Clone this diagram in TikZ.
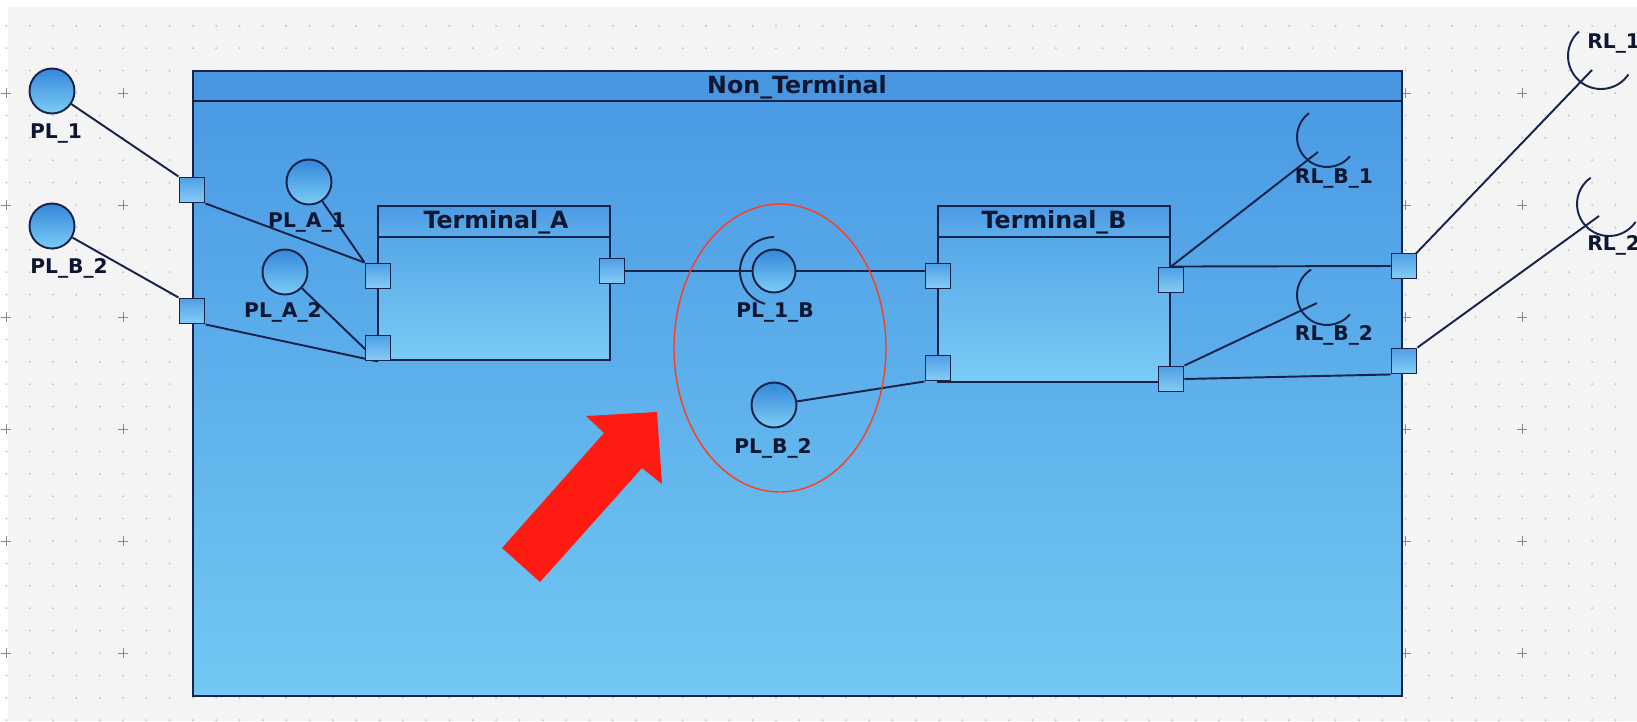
\documentclass[tikz,border=0pt]{standalone}
\usepackage{fontspec}
\setmainfont{DejaVu Sans}
\usetikzlibrary{calc}
\definecolor{navy}{HTML}{17234A}
\definecolor{lblc}{HTML}{0E1632}
\definecolor{bgc}{HTML}{F4F4F4}
\definecolor{dotc}{HTML}{C6C6C6}
\definecolor{plusc}{HTML}{8A8A8A}
\definecolor{ntHead}{HTML}{4896E0}
\definecolor{ntTop}{HTML}{4A9AE4}
\definecolor{ntBot}{HTML}{72C8F3}
\definecolor{tHeadTop}{HTML}{4C99E2}
\definecolor{tHeadBot}{HTML}{5EAEEA}
\definecolor{tTop}{HTML}{56A8E8}
\definecolor{tBot}{HTML}{7ACBF4}
\definecolor{ifTop}{HTML}{3486DA}
\definecolor{ifBot}{HTML}{7CCDF5}
\definecolor{portTop}{HTML}{4F9FE6}
\definecolor{portBot}{HTML}{86CDF4}
\definecolor{arrowred}{HTML}{FF1A12}
\definecolor{ellred}{HTML}{FF3C1E}
\pgfdeclarelayer{back}
\pgfdeclarelayer{lines}
\pgfsetlayers{back,lines,main}
\tikzset{
  boxline/.style={draw=navy, line width=1.2pt},
  conn/.style={draw=navy, line width=1.1pt},
  sock/.style={draw=navy, line width=1.1pt},
  port/.style={rectangle, draw=navy, line width=1.1pt, minimum size=0.5cm, inner sep=0pt,
    top color=portTop, bottom color=portBot},
  iface/.style={circle, draw=navy, line width=1.1pt, minimum size=0.9cm, inner sep=0pt,
    top color=ifTop, bottom color=ifBot},
  lbl/.style={text=lblc, font=\bfseries\fontsize{11.5}{13}\selectfont, inner sep=0pt, anchor=base},
  ttl/.style={text=lblc, font=\bfseries\fontsize{13.5}{15}\selectfont, inner sep=0pt, anchor=base},
}
\begin{document}
\begin{tikzpicture}[x=0.02cm,y=-0.02cm]
\useasboundingbox (0,0) rectangle (1637,721);

% ---------- nodes ----------
% outer provided interfaces
\node[iface] (PL1) at (52,91) {};
\node[iface] (PLB2) at (52,226) {};
% inner provided interfaces
\node[iface] (PLA1) at (309,182) {};
\node[iface] (PLA2) at (285,272) {};
\node[iface, minimum size=0.86cm] (PL1B) at (774,271) {};
\node[iface] (PLB2in) at (774,405) {};
% ports
\node[port] (pL1) at (192,190) {};
\node[port] (pL2) at (192,311) {};
\node[port] (taL1) at (378,276) {};
\node[port] (taL2) at (378,348) {};
\node[port] (taR) at (612,271) {};
\node[port] (tbL1) at (938,276) {};
\node[port] (tbL2) at (938,368) {};
\node[port] (tbR1) at (1171,280) {};
\node[port] (tbR2) at (1171,379) {};
\node[port] (pR1) at (1404,266) {};
\node[port] (pR2) at (1404,361) {};
% socket ends
\coordinate (rlb1) at (1318,152);
\coordinate (rlb2) at (1317,303);
\coordinate (rl1) at (1592,70);
\coordinate (rl2) at (1599,216);

% ---------- background, grid and boxes ----------
\begin{pgfonlayer}{back}
\fill[white] (0,0) rectangle (1637,721);
\fill[bgc] (8,7) rectangle (1637,721);
\foreach \i in {-5,...,65} {
  \foreach \j in {-3,...,28} {
    \fill[dotc] (123+23.32*\i, 93+22.4*\j) circle[radius=1.1];
  }
}
\foreach \m in {0,...,13} {
  \foreach \n in {0,...,5} {
    \draw[plusc, line width=0.5pt] (6.4+116.6*\m-5, 93+112*\n) -- (6.4+116.6*\m+5, 93+112*\n)
      (6.4+116.6*\m, 93+112*\n-5) -- (6.4+116.6*\m, 93+112*\n+5);
  }
}
% Non_Terminal
\shade[top color=ntTop, bottom color=ntBot] (193,101) rectangle (1402,696);
\fill[ntHead] (193,71) rectangle (1402,101);
\draw[boxline] (193,71) rectangle (1402,696) (193,101) -- (1402,101);
% Terminal_A
\shade[top color=tHeadTop, bottom color=tHeadBot] (378,206) rectangle (610,237);
\shade[top color=tTop, bottom color=tBot] (378,237) rectangle (610,360);
\draw[boxline] (378,206) rectangle (610,360) (378,237) -- (610,237);
% Terminal_B
\shade[top color=tHeadTop, bottom color=tHeadBot] (938,206) rectangle (1170,237);
\shade[top color=tTop, bottom color=tBot] (938,237) rectangle (1170,382);
\draw[boxline] (938,206) rectangle (1170,382) (938,237) -- (1170,237);
\end{pgfonlayer}

% ---------- connectors ----------
\begin{pgfonlayer}{lines}
\draw[conn] (PL1) -- (pL1.north west);
\draw[conn] (pL1.south east) -- (taL1.north west);
\draw[conn] (PLA1) -- (taL1.north west);
\draw[conn] (PLB2) -- (pL2.north west);
\draw[conn] (pL2.south east) -- (taL2.south);
\draw[conn] (PLA2) -- (taL2.south);
\draw[conn] (taR.center) -- (taR.center -| tbL1.center);
\draw[conn] (PLB2in) -- (tbL2.south west);
\draw[conn] (tbR1.north) -- (pR1.west);
\draw[conn] (tbR1.north) -- (rlb1);
\draw[conn] (tbR2.north east) -- (rlb2);
\draw[conn] (tbR2.east) -- (pR2.south west);
\draw[conn] (pR1.center) -- (rl1);
\draw[conn] (pR2.north east) -- (rl2);
\end{pgfonlayer}

% ---------- sockets ----------
\draw[sock] (PL1B.center) ++(105:34) arc[start angle=105, end angle=270, radius=34];
\draw[sock] (1327,137) ++(40:30) arc[start angle=40, end angle=233, radius=30];
\draw[sock] (1327,295) ++(40:30) arc[start angle=40, end angle=238, radius=30];
\draw[sock] (1601,56) ++(34:33) arc[start angle=34, end angle=228, radius=33];
\draw[sock] (1609,204) ++(34:32) arc[start angle=34, end angle=235, radius=32];

% ---------- labels ----------
\node[ttl] (tNT) at (797,93) {Non\_Terminal};
\node[ttl] (tTA) at (496,228) {Terminal\_A};
\node[ttl] (tTB) at (1054,228) {Terminal\_B};
\node[lbl] (lPL1) at (56,138) {PL\_1};
\node[lbl] (lPLB2) at (69,273) {PL\_B\_2};
\node[lbl] (lPLA1) at (307,227) {PL\_A\_1};
\node[lbl] (lPLA2) at (283,317) {PL\_A\_2};
\node[lbl] (lPL1B) at (775,317) {PL\_1\_B};
\node[lbl] (lPLB2in) at (773,453) {PL\_B\_2};
\node[lbl] (lRLB1) at (1334,183) {RL\_B\_1};
\node[lbl] (lRLB2) at (1334,340) {RL\_B\_2};
\node[lbl, anchor=base west] (lRL1) at (1587,48) {RL\_1};
\node[lbl, anchor=base west] (lRL2) at (1587,250) {RL\_2};

% ---------- highlight ----------
\draw[ellred, line width=0.8pt] (780,348) ellipse[x radius=106, y radius=144];
\fill[arrowred] (502,548) -- (604,433) -- (586,416) -- (657,412) -- (662,484) -- (642,468) -- (540,582) -- cycle;
\end{tikzpicture}
\end{document}
